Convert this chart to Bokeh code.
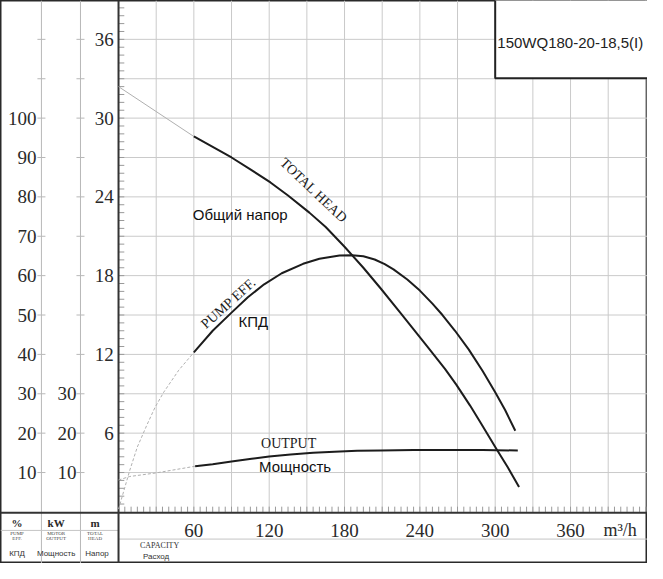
from bokeh.plotting import figure
from bokeh.models import Range1d
from bokeh.embed import file_html
from bokeh.resources import INLINE
from bokeh.core.properties import value
import numpy as np

# ---------------- data ----------------
# capacity Q in m3/h
head_q = [60, 75, 90, 105, 121, 135, 152, 165, 180, 195, 209, 225, 246, 260, 269, 280,
          289, 301, 310, 319]
head_m = [28.6, 27.8, 27.0, 26.1, 25.1, 24.1, 22.8, 21.7, 20.2, 18.6, 17.0, 15.1, 12.6,
          10.9, 9.7, 8.1, 6.7, 4.8, 3.4, 1.9]
head_ext_q = [0, 60]
head_ext_m = [32.4, 28.6]

eff_q = [60, 75, 90, 103, 116, 130, 147, 160, 176, 186, 195, 204, 212, 219, 230, 240,
         250, 258, 268, 279, 290, 300, 308, 316]
eff_pct = [40.5, 46.0, 50.6, 54.5, 57.8, 60.6, 63.0, 64.3, 65.1, 65.2, 64.9, 64.1, 62.9,
           61.6, 59.0, 56.2, 52.9, 50.0, 46.0, 41.2, 35.8, 30.4, 25.8, 20.6]
eff_ext_q = [0, 9, 15, 22.5, 29, 36, 48, 60]
eff_ext_pct = [0.7, 10.6, 16.5, 22.0, 26.5, 30.4, 36.0, 40.5]

out_q = [61, 75, 90, 106, 120, 137, 155, 172, 190, 209, 235, 260, 290, 318]
out_kw = [11.6, 12.1, 12.8, 13.5, 14.1, 14.6, 15.0, 15.3, 15.5, 15.6, 15.7, 15.7, 15.7,
          15.6]
out_ext_q = [0, 9, 30, 61]
out_ext_kw = [8.1, 9.0, 9.9, 11.6]

pct_ticks = [10, 20, 30, 40, 50, 60, 70, 80, 90, 100]
kw_ticks = [10, 20, 30]
head_ticks = [6, 12, 18, 24, 30, 36]
q_ticks = [60, 120, 180, 240, 300, 360]
q_grid = list(range(30, 421, 30))
head_grid = list(range(3, 37, 3))
title = "150WQ180-20-18,5(I)"

# 100 % and 10 kW share the head-axis scale: 100 % == 30 m, 10 kW == 3 m
PCT_TO_M = 0.3
KW_TO_M = 0.3

X0, X1 = -94.0, 421.3
Y0, Y1 = -3.93, 38.96

SERIF = value("Liberation Serif")
SANS = value("Liberation Sans")
DARK = "#1c1c1c"
GRID = "#cacaca"
EXT = "#b0b0b0"

p = figure(width=647, height=563, x_range=Range1d(X0, X1), y_range=Range1d(Y0, Y1),
           output_backend="svg", toolbar_location=None, min_border=0,
           x_axis_type=None, y_axis_type=None)
p.outline_line_color = "#2a2a2a"
p.outline_line_width = 2
p.background_fill_color = "white"

# ---------------- grid ----------------
p.segment(x0=q_grid, y0=[0] * len(q_grid), x1=q_grid, y1=[Y1] * len(q_grid),
          line_color=GRID, line_width=1)
p.segment(x0=[0] * len(head_grid), y0=head_grid, x1=[X1] * len(head_grid), y1=head_grid,
          line_color=GRID, line_width=1)

# minor ticks on the frame
minor_h = np.arange(0.6, 38.9, 0.6)
p.segment(x0=[0] * len(minor_h), y0=minor_h, x1=[4.6] * len(minor_h), y1=minor_h,
          line_color="#9a9a9a", line_width=1)
minor_q = np.arange(5, 421, 5)
p.segment(x0=minor_q, y0=[0] * len(minor_q), x1=minor_q, y1=[0.4] * len(minor_q),
          line_color="#9a9a9a", line_width=1)

# left strip: column lines and ticks
for xc in (-61.4, -30.3):
    p.segment(x0=[xc], y0=[Y0], x1=[xc], y1=[Y1], line_color="#b8b8b8", line_width=1)
    p.segment(x0=[xc - 3.2] * len(head_grid), y0=head_grid,
              x1=[xc + 3.2] * len(head_grid), y1=head_grid,
              line_color="#b8b8b8", line_width=1)

# table lines
p.segment(x0=[X0], y0=[-1.41], x1=[0], y1=[-1.41], line_color="#c4c4c4", line_width=1)
p.segment(x0=[0], y0=[-2.07], x1=[X1], y1=[-2.07], line_color="#c4c4c4", line_width=1)
p.segment(x0=[X0], y0=[-0.07], x1=[X1], y1=[-0.07], line_color="#333333", line_width=2)
p.segment(x0=[0], y0=[Y0], x1=[0], y1=[Y1], line_color="#333333", line_width=2)

# ---------------- curves ----------------
p.line(head_ext_q, head_ext_m, line_color=EXT, line_width=1)
p.line(eff_ext_q, [v * PCT_TO_M for v in eff_ext_pct], line_color=EXT, line_width=1,
       line_dash="3 2")
p.line(out_ext_q, [v * KW_TO_M for v in out_ext_kw], line_color=EXT, line_width=1,
       line_dash="3 2")

p.line(head_q, head_m, line_color=DARK, line_width=2, line_join="round")
p.line(eff_q, [v * PCT_TO_M for v in eff_pct], line_color=DARK, line_width=2,
       line_join="round")
p.line(out_q, [v * KW_TO_M for v in out_kw], line_color=DARK, line_width=2,
       line_join="round")

# ---------------- axis labels ----------------
p.text(x=[-65.3] * len(pct_ticks), y=[v * PCT_TO_M for v in pct_ticks],
       text=[str(v) for v in pct_ticks], text_font=SERIF, text_font_size="19px",
       text_align="right", text_baseline="middle", text_color="#2a2a2a")
p.text(x=[-33.4] * len(kw_ticks), y=[v * KW_TO_M for v in kw_ticks],
       text=[str(v) for v in kw_ticks], text_font=SERIF, text_font_size="19px",
       text_align="right", text_baseline="middle", text_color="#2a2a2a")
p.text(x=[-3.9] * len(head_ticks), y=head_ticks,
       text=[str(v) for v in head_ticks], text_font=SERIF, text_font_size="19px",
       text_align="right", text_baseline="middle", text_color="#2a2a2a")
p.text(x=q_ticks, y=[-1.41] * len(q_ticks),
       text=[str(v) for v in q_ticks], text_font=SERIF, text_font_size="19px",
       text_align="center", text_baseline="middle", text_color="#2a2a2a")
p.text(x=[399.5], y=[-1.41], text=["m³/h"], text_font=SERIF, text_font_size="18px",
       text_align="center", text_baseline="middle", text_color="#2a2a2a")

# table texts
p.text(x=[-80.8, -49.7, -18.7], y=[-0.81] * 3, text=["%", "kW", "m"],
       text_font=SERIF, text_font_size="11px", text_font_style="bold",
       text_align="center", text_baseline="middle", text_color="#2a2a2a")
p.text(x=[-80.8, -49.7, -18.7], y=[-1.68] * 3, text=["PUMP", "MOTOR", "TOTAL"],
       text_font=SERIF, text_font_size="5px",
       text_align="center", text_baseline="middle", text_color="#444444")
p.text(x=[-80.8, -49.7, -18.7], y=[-2.05] * 3, text=["EFF.", "OUTPUT", "HEAD"],
       text_font=SERIF, text_font_size="5px",
       text_align="center", text_baseline="middle", text_color="#444444")
p.text(x=[-80.8, -49.7, -17.1], y=[-3.19] * 3, text=["КПД", "Мощность", "Напор"],
       text_font=SANS, text_font_size="8px",
       text_align="center", text_baseline="middle", text_color="#333333")
p.text(x=[17.1], y=[-2.59], text=["CAPACITY"], text_font=SERIF, text_font_size="8px",
       text_align="left", text_baseline="middle", text_color="#333333")
p.text(x=[19.4], y=[-3.41], text=["Расход"], text_font=SANS, text_font_size="8px",
       text_align="left", text_baseline="middle", text_color="#333333")

# ---------------- curve labels ----------------
p.text(x=[156.5], y=[24.4], text=["TOTAL  HEAD"], angle=-0.76, text_font=SERIF,
       text_font_size="14px", text_align="center", text_baseline="middle",
       text_color=DARK)
p.text(x=[59.1], y=[22.67], text=["Общий напор"], text_font=SANS, text_font_size="15px",
       text_align="left", text_baseline="middle", text_color="#111111")
p.text(x=[88.6], y=[16.0], text=["PUMP  EFF."], angle=0.73, text_font=SERIF,
       text_font_size="14px", text_align="center", text_baseline="middle",
       text_color=DARK)
p.text(x=[95.6], y=[14.52], text=["КПД"], text_font=SANS, text_font_size="15px",
       text_align="left", text_baseline="middle", text_color="#111111")
p.text(x=[113.5], y=[5.22], text=["OUTPUT"], text_font=SERIF, text_font_size="14px",
       text_align="left", text_baseline="middle", text_color=DARK)
p.text(x=[111.9], y=[3.48], text=["Мощность"], text_font=SANS, text_font_size="15px",
       text_align="left", text_baseline="middle", text_color="#111111")

# ---------------- title box ----------------
p.quad(left=[300.0], right=[X1 + 5], bottom=[33.04], top=[Y1 + 2],
       fill_color="white", line_color="#222222", line_width=2)
p.text(x=[359.8], y=[35.78], text=[title], text_font=SANS, text_font_size="15px",
       text_align="center", text_baseline="middle", text_color="#222222")

open("out.html", "w").write(file_html(p, INLINE))
